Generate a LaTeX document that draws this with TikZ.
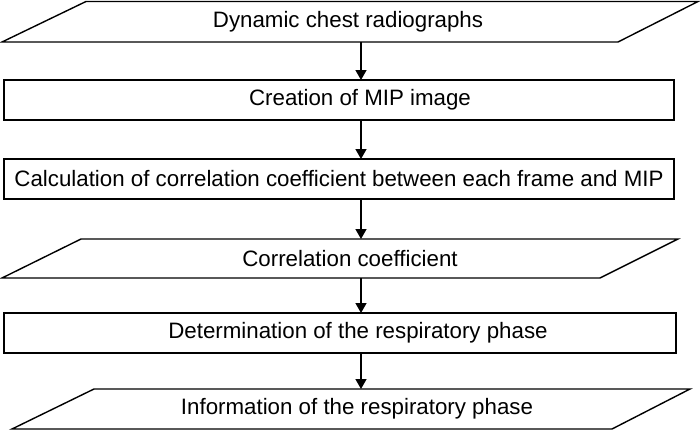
\documentclass[tikz,border=0pt]{standalone}
\usepackage{fontspec}
\setmainfont{Liberation Sans}
\usetikzlibrary{arrows.meta}
\begin{document}
\begin{tikzpicture}[x=1pt,y=-1pt,
  box/.style={draw=black,line width=1.4pt,fill=white},
  lbl/.style={inner sep=0pt,font=\fontsize{22.3}{26}\selectfont},
  arr/.style={line width=1.4pt,-{Triangle[length=10pt,width=11pt]}}]
\useasboundingbox (0,0) rectangle (700,431);
% shapes
\draw[box] (86,1.5) -- (698,1.5) -- (618,42) -- (2,42) -- cycle;
\draw[box] (4,80) rectangle (674,120);
\draw[box] (4,159) rectangle (674,199);
\draw[box] (81,239) -- (678,239) -- (600,278) -- (2,278) -- cycle;
\draw[box] (4,313) rectangle (676,353);
\draw[box] (94,389) -- (690,389) -- (612,429) -- (12,429) -- cycle;
% labels
\node[lbl] (t1) at (348,21.5) {Dynamic chest radiographs};
\node[lbl] (t2) at (360,100) {Creation of MIP image};
\node[lbl] (t3) at (339,179) {Calculation of correlation coefficient between each frame and MIP};
\node[lbl] (t4) at (350,258.5) {Correlation coefficient};
\node[lbl] (t5) at (358,333) {Determination of the respiratory phase};
\node[lbl] (t6) at (357,409) {Information of the respiratory phase};
% connector ends
\coordinate (a1) at (361,42);  \coordinate (b1) at (361,80);
\coordinate (a2) at (361,120); \coordinate (b2) at (361,159);
\coordinate (a3) at (361,199); \coordinate (b3) at (361,239);
\coordinate (a4) at (361,278); \coordinate (b4) at (361,313);
\coordinate (a5) at (361,353); \coordinate (b5) at (361,389);
\draw[arr] (a1) -- (b1);
\draw[arr] (a2) -- (b2);
\draw[arr] (a3) -- (b3);
\draw[arr] (a4) -- (b4);
\draw[arr] (a5) -- (b5);
\end{tikzpicture}
\end{document}
